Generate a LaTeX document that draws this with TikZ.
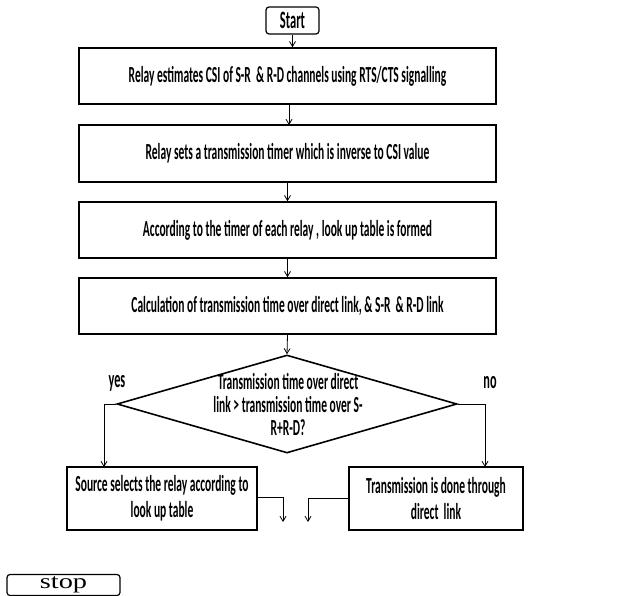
\documentclass[tikz,border=0pt]{standalone}
\usepackage{fontspec}
\setmainfont{Carlito}[FakeStretch=0.5]
\newfontfamily\stopfont{Liberation Serif}[FakeStretch=1.35]
\usetikzlibrary{arrows.meta,shapes.geometric}
\tikzset{
  box/.style={draw,line width=1.6pt,inner sep=0pt,align=center,font=\fontsize{23}{26}\selectfont\bfseries},
  term/.style={draw,line width=1.2pt,rounded corners=3pt,inner sep=0pt},
  arr/.style={line width=0.8pt,-{Straight Barb[length=5pt,width=6pt,line width=0.8pt]}},
  lab/.style={font=\fontsize{23}{23}\selectfont\bfseries,align=center,inner sep=0pt}
}
\begin{document}
\begin{tikzpicture}[x=1pt,y=-1pt]
\useasboundingbox (0,0) rectangle (629,596);
\node[term,minimum width=53pt,minimum height=27pt,font=\fontsize{25}{26}\selectfont\bfseries] (start) at (292.5,20.5) {Start};
\node[box,minimum width=417pt,minimum height=56pt] (b1) at (287.5,76) {Relay estimates CSI of S-R \ \& R-D channels using RTS/CTS signalling};
\node[box,minimum width=417pt,minimum height=57pt] (b2) at (287.5,153.5) {Relay sets a transmission timer which is inverse to CSI value};
\node[box,minimum width=417pt,minimum height=56pt] (b3) at (287.5,230) {According to the timer of each relay , look up table is formed};
\node[box,minimum width=417pt,minimum height=56pt] (b4) at (287.5,306) {Calculation of transmission time over direct link, \& S-R \ \& R-D link};
\node[draw,diamond,line width=1.6pt,inner sep=0pt,minimum width=340pt,minimum height=98pt] (dia) at (287,404) {};
\node[lab] (dtext) at (288,404) {Transmission time over direct\\link > transmission time over S-\\R+R-D?};
\node[box,minimum width=190pt,minimum height=63pt] (lb) at (162,498.5) {Source selects the relay according to\\look up table};
\node[box,minimum width=174pt,minimum height=63pt] (rb) at (436,498.5) {Transmission is done through\\direct \ link};
\node[lab,font=\fontsize{24.5}{25}\selectfont\bfseries] (yes) at (117,383) {yes};
\node[lab,font=\fontsize{24.5}{25}\selectfont\bfseries] (no) at (490,383) {no};
\node[term,minimum width=113pt,minimum height=21pt,font=\fontsize{21}{22}\stopfont] (stop) at (63.5,585) {stop};
\coordinate (lbin) at (104,467);
\coordinate (rbin) at (485,467);
\coordinate (lend) at (283,522);
\coordinate (rend) at (308,522);
\draw[arr] (start.south) -- (start.south |- b1.north);
\draw[arr] (289,104) -- (289,125);
\draw[arr] (b2.south) -- (b3.north);
\draw[arr] (b3.south) -- (b4.north);
\draw[arr] (b4.south) -- (dia.north);
\draw[arr] (dia.west) -| (lbin);
\draw[arr] (dia.east) -| (rbin);
\draw[arr] (lb.east |- 0,497) -| (lend);
\draw[arr] (rb.west |- 0,498) -| (rend);
\end{tikzpicture}
\end{document}
